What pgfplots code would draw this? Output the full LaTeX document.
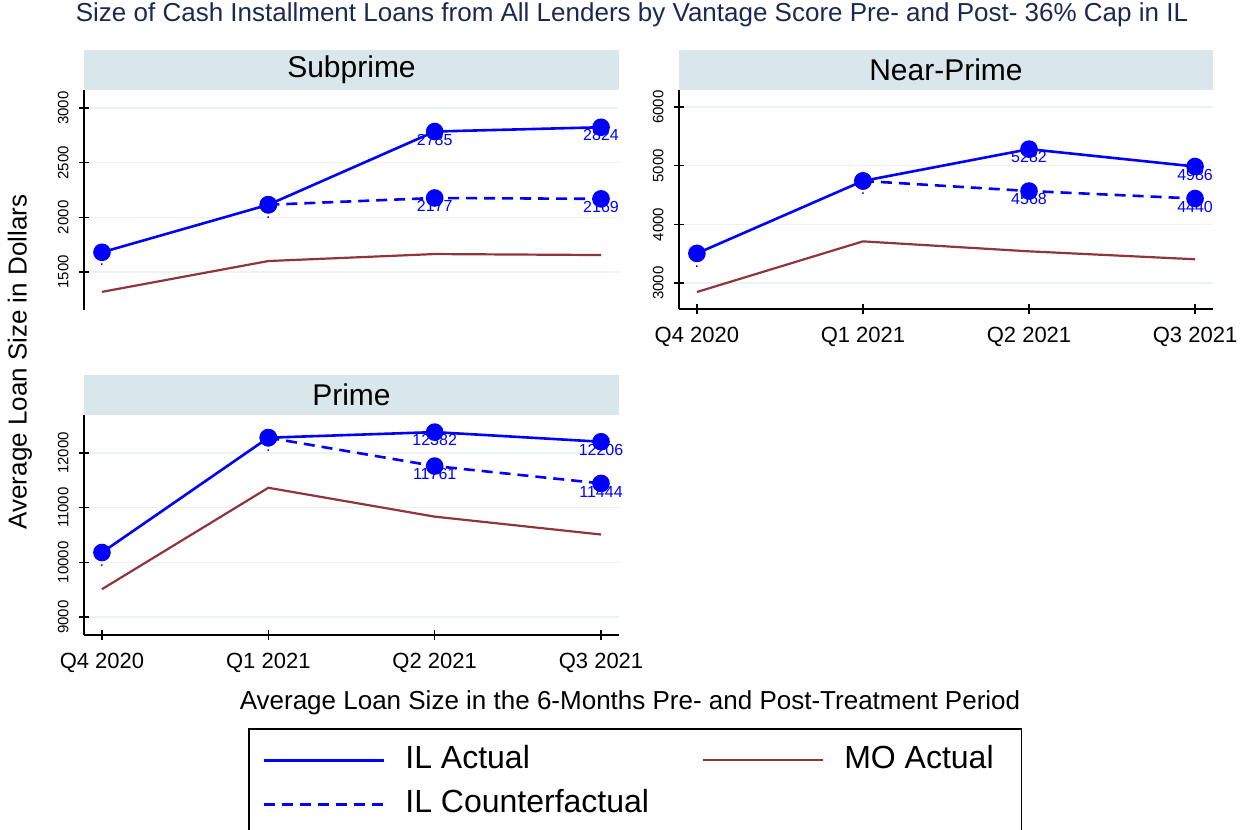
\documentclass[border=0pt]{standalone}
\usepackage{fontspec}
\setmainfont{Liberation Sans}
\usepackage{pgfplots}
\pgfplotsset{compat=1.18}
\definecolor{ilblue}{RGB}{0,0,255}
\definecolor{mored}{RGB}{144,53,59}
\definecolor{stripcol}{RGB}{217,230,236}
\definecolor{gridcol}{RGB}{234,242,243}
\definecolor{titlecol}{RGB}{26,40,84}

\pgfplotsset{
  panel/.style={
    scale only axis, clip=false,
    xmin=-0.108, xmax=3.108,
    xtick={0,1,2,3}, xticklabels={Q4 2020,Q1 2021,Q2 2021,Q3 2021},
    ymajorgrids, grid style={gridcol, line width=0.8pt},
    tick style={black, line width=0.7pt},
    major tick length=5pt, tick align=outside,
    yticklabel style={rotate=90, anchor=south, inner xsep=0pt, inner ysep=5pt, font=\fontsize{7.5}{9}\selectfont},
    xticklabel style={font=\fontsize{11}{13}\selectfont, yshift=-3.2pt},
    /pgf/number format/assume math mode=true,
    /pgf/number format/1000 sep={},
    scaled y ticks=false,
  },
  noarrows/.style={
    axis line style={black, line width=0.7pt, -},
    every outer x axis line/.append style={-},
    every outer y axis line/.append style={-},
    every inner x axis line/.append style={-},
    every inner y axis line/.append style={-},
  },
  actual/.style={ilblue, line width=1.3pt, mark=*, mark size=3.75pt,
    mark options={solid, fill=ilblue, draw=ilblue},
    nodes near coords, point meta=explicit symbolic,
    every node near coord/.style={anchor=north, font=\fontsize{8}{9}\selectfont,
      text=ilblue, inner sep=0.4pt, text height=5.8pt, text depth=0pt}},
  cf/.style={ilblue, line width=1.3pt, dash pattern=on 5.5pt off 3.5pt, mark=*, mark size=3.75pt,
    mark options={solid, fill=ilblue, draw=ilblue},
    nodes near coords, point meta=explicit symbolic,
    every node near coord/.style={anchor=north, font=\fontsize{8}{9}\selectfont,
      text=ilblue, inner sep=0.4pt, text height=5.8pt, text depth=0pt}},
  mo/.style={mored, line width=1.1pt, no marks},
}

\newcommand{\strip}[1]{%
  \fill[stripcol] (rel axis cs:0,1) rectangle ([yshift=20pt]rel axis cs:1,1);
  \node[font=\fontsize{15}{18}\selectfont] at ([yshift=10pt]rel axis cs:0.5,1) {#1};
}

\begin{document}
\begin{tikzpicture}
\useasboundingbox (0,0) rectangle (624pt,-415pt);

% Subprime
\begin{axis}[panel, at={(42pt,-45pt)}, anchor=north west,
  width=267.5pt, height=110pt,
  ymin=1152, ymax=3165, ytick={1500,2000,2500,3000},
  axis x line=none, axis y line=left, noarrows]
  \strip{Subprime}
  \addplot[mo] coordinates {(0,1318) (1,1600) (2,1664) (3,1655)};
  \addplot[cf] coordinates {(1,2115)[] (2,2177)[2177] (3,2169)[2169]};
  \addplot[actual] coordinates {(0,1680)[.] (1,2115)[.] (2,2785)[2785] (3,2824)[2824]};
\end{axis}

% Near-Prime
\begin{axis}[panel, at={(339.5pt,-45pt)}, anchor=north west,
  width=267pt, height=109.5pt,
  ymin=2557, ymax=6290, ytick={3000,4000,5000,6000},
  axis x line=bottom, axis y line=left, noarrows]
  \strip{Near-Prime}
  \addplot[mo] coordinates {(0,2847) (1,3710) (2,3540) (3,3405)};
  \addplot[cf] coordinates {(1,4740)[] (2,4568)[4568] (3,4440)[4440]};
  \addplot[actual] coordinates {(0,3505)[.] (1,4740)[.] (2,5282)[5282] (3,4986)[4986]};
\end{axis}

% Prime
\begin{axis}[panel, at={(42pt,-207.5pt)}, anchor=north west,
  width=267.5pt, height=110pt,
  ymin=8671, ymax=12695, ytick={9000,10000,11000,12000},
  axis x line=bottom, axis y line=left, noarrows,
  legend columns=2,
  legend style={at={(0.3065,-0.4227)}, anchor=north west,
    draw=black, line width=0.8pt, inner xsep=7pt, inner ysep=8pt,
    font=\fontsize{16}{19}\selectfont,
    nodes={inner sep=0pt, text height=12pt, text depth=3.5pt},
    /tikz/column 1/.style={column sep=10pt},
    /tikz/column 2/.style={column sep=26.5pt},
    /tikz/column 3/.style={column sep=10pt},
    /tikz/row sep=6.5pt},
  legend cell align=left,
  legend image code/.code={\draw[#1] (0pt,0pt) -- (60pt,0pt);}]
  \strip{Prime}
  \addlegendimage{ilblue, line width=1.3pt}
  \addlegendentry{IL Actual}
  \addlegendimage{mored, line width=1.1pt}
  \addlegendentry{MO Actual\kern7pt}
  \addlegendimage{ilblue, line width=1.3pt, dash pattern=on 5.5pt off 3.5pt}
  \addlegendentry{IL Counterfactual}
  \addplot[mo, forget plot] coordinates {(0,9509) (1,11364) (2,10836) (3,10509)};
  \addplot[cf, forget plot] coordinates {(1,12280)[] (2,11761)[11761] (3,11444)[11444]};
  \addplot[actual, forget plot] coordinates {(0,10180)[.] (1,12280)[.] (2,12382)[12382] (3,12206)[12206]};
\end{axis}

\node[text=titlecol, font=\fontsize{13}{15}\selectfont] at (316pt,-7.5pt)
  {Size of Cash Installment Loans from All Lenders by Vantage Score Pre- and Post- 36\% Cap in IL};
\node[rotate=90, font=\fontsize{13}{15}\selectfont] at (10pt,-181pt) {Average Loan Size in Dollars};
\node[font=\fontsize{13}{15}\selectfont] at (315pt,-351.5pt)
  {Average Loan Size in the 6-Months Pre- and Post-Treatment Period};
\end{tikzpicture}
\end{document}
